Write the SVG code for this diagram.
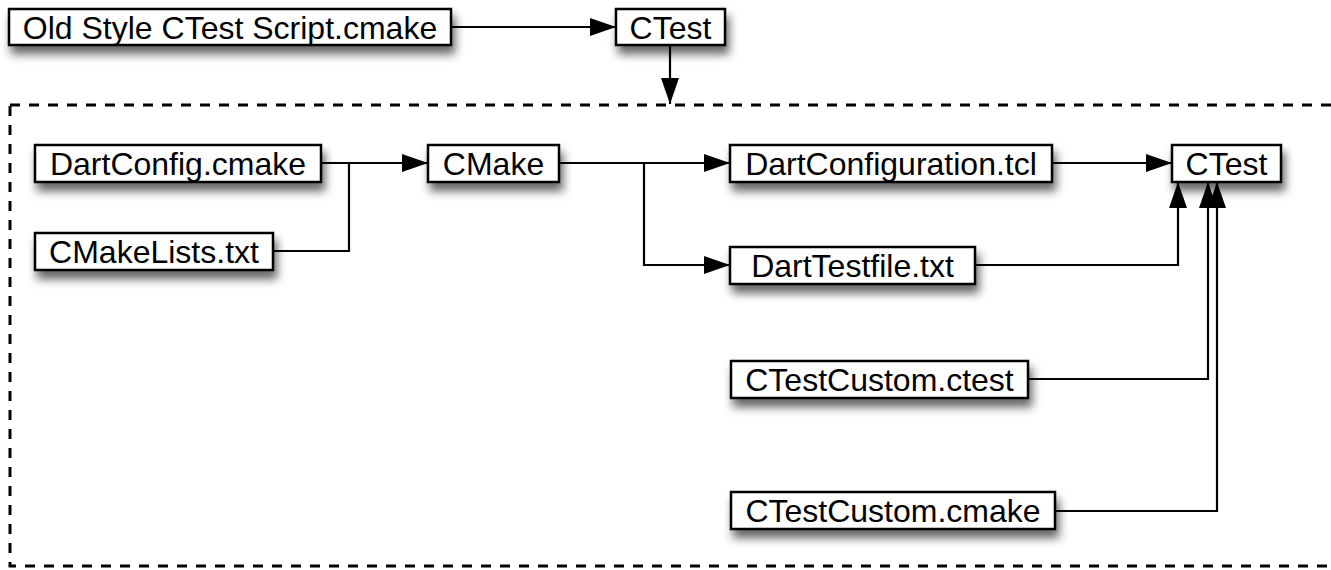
<svg xmlns="http://www.w3.org/2000/svg" width="1331" height="570" viewBox="0 0 1331 570">
<defs>
<filter id="sh" x="-20%" y="-40%" width="140%" height="220%">
<feDropShadow dx="3" dy="8" stdDeviation="5" flood-color="#000" flood-opacity="0.6"/>
</filter>
<marker id="ah" markerUnits="userSpaceOnUse" markerWidth="27" markerHeight="19" refX="26" refY="9" orient="auto">
<path d="M0,0 L26,9 L0,18 z" fill="#000"/>
</marker>
</defs>
<style>
.box{fill:#fff;stroke:#000;stroke-width:2.5;filter:url(#sh)}
.lbl{font-family:"Liberation Sans",Arial,sans-serif;font-size:32px;fill:#000;text-anchor:middle}
.c{fill:none;stroke:#000;stroke-width:2.2}
.a{marker-end:url(#ah)}
.cluster{fill:none;stroke:#000;stroke-width:3;stroke-dasharray:10 9}
</style>
<rect class="cluster" x="10" y="105" width="1340" height="461"/>
<g id="connectors">
<path class="c a" d="M451,27 L616,27"/>
<path class="c a" d="M670,45 L670,104"/>
<path class="c a" d="M321,163 L428,163"/>
<path class="c" d="M273,251 L349,251 L349,163"/>
<path class="c a" d="M559,163 L730,163"/>
<path class="c a" d="M644,163 L644,265 L730,265"/>
<path class="c a" d="M1052,163 L1172,163"/>
<path class="c a" d="M975,265 L1178,265 L1178,182"/>
<path class="c a" d="M1028,379 L1208,379 L1208,182"/>
<path class="c a" d="M1055,511 L1217,511 L1217,182"/>
</g>
<g id="oldstyle"><rect class="box" x="9" y="9" width="442" height="36"/><text class="lbl" x="230" y="38.5">Old Style CTest Script.cmake</text></g>
<g id="ctest_top"><rect class="box" x="616" y="9" width="109" height="36"/><text class="lbl" x="670.5" y="38.5">CTest</text></g>
<g id="dartconfig"><rect class="box" x="35" y="145" width="286" height="37"/><text class="lbl" x="178" y="175">DartConfig.cmake</text></g>
<g id="cmakelists"><rect class="box" x="35" y="233" width="238" height="37"/><text class="lbl" x="154" y="263">CMakeLists.txt</text></g>
<g id="cmake"><rect class="box" x="428" y="145" width="131" height="37"/><text class="lbl" x="493.5" y="175">CMake</text></g>
<g id="dartconfiguration"><rect class="box" x="730" y="145" width="322" height="37"/><text class="lbl" x="891" y="175">DartConfiguration.tcl</text></g>
<g id="darttestfile"><rect class="box" x="730" y="247" width="245" height="37"/><text class="lbl" x="852.5" y="277">DartTestfile.txt</text></g>
<g id="ctest_main"><rect class="box" x="1172" y="145" width="109" height="37"/><text class="lbl" x="1226.5" y="175">CTest</text></g>
<g id="ctestcustom_ctest"><rect class="box" x="731" y="361" width="297" height="37"/><text class="lbl" x="879.5" y="391">CTestCustom.ctest</text></g>
<g id="ctestcustom_cmake"><rect class="box" x="731" y="492" width="324" height="37"/><text class="lbl" x="893" y="522">CTestCustom.cmake</text></g>
</svg>
